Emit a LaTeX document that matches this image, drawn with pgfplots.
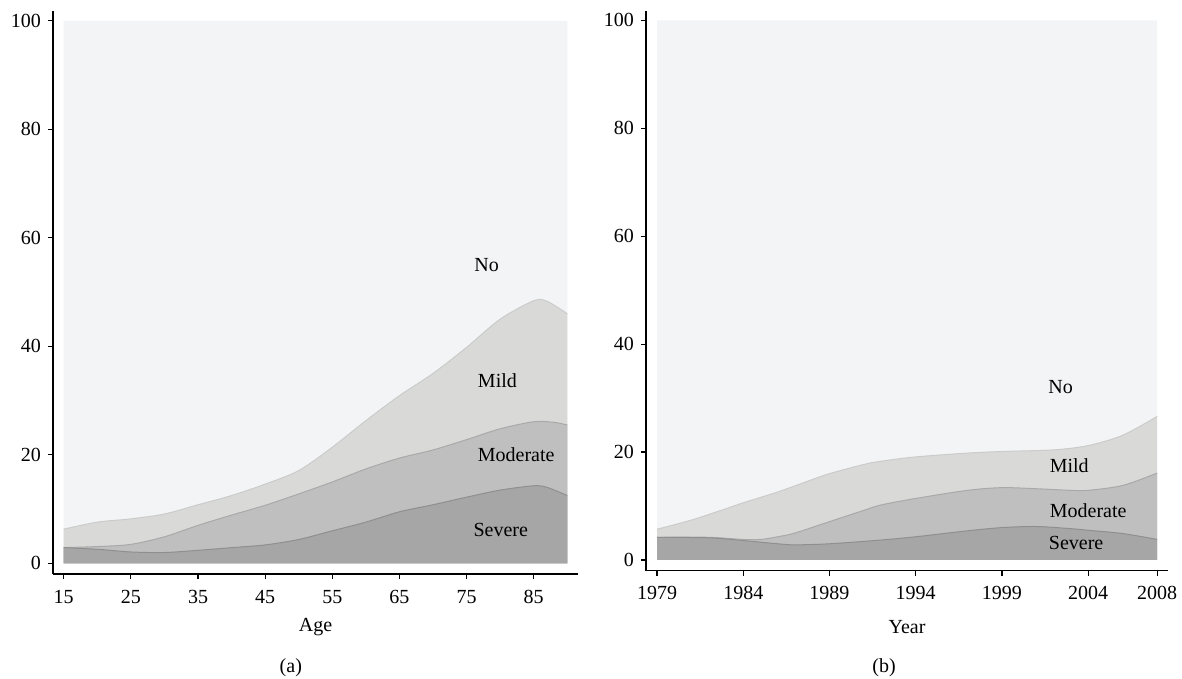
\documentclass[border=0pt]{standalone}
\usepackage{fontspec}
\setmainfont{Liberation Serif}
\usepackage{pgfplots}
\pgfplotsset{compat=1.18}

\definecolor{NoCol}{HTML}{F3F4F6}
\definecolor{MildCol}{HTML}{D9D9D8}
\definecolor{ModCol}{HTML}{BFBFBF}
\definecolor{SevCol}{HTML}{A6A6A6}
\definecolor{MildLine}{HTML}{CBCBCB}
\definecolor{ModLine}{HTML}{A9A9A9}
\definecolor{SevLine}{HTML}{8F8F8F}

\tikzset{lbl/.style={font=\fontsize{10}{12}\selectfont}}
\pgfplotsset{
    stataaxis/.style={
        scale only axis,
        axis x line*=bottom,
        axis y line*=left,
        axis line style={-, draw=black, line width=0.6pt},
        tick style={draw=black, line width=0.6pt},
        tick align=outside,
        major tick length=2.5pt,
        ytick={0,20,40,60,80,100},
        /pgf/number format/assume math mode=true,
        /pgf/number format/1000 sep={},
        tick label style={font=\fontsize{10}{12}\selectfont},
        xticklabel style={yshift=-2pt},
        label style={font=\fontsize{10}{12}\selectfont},
        clip=false,
    },
    area/.style={draw=none, fill=#1, smooth},
    edge/.style={draw=#1, line width=0.5pt, smooth},
}

\begin{document}
\begin{tikzpicture}
\path[use as bounding box] (0,0) rectangle (591pt,339.5pt);

% (a) by age
\begin{axis}[
    stataaxis,
    at={(26.5pt,52.5pt)}, anchor=south west,
    width=262.5pt, height=281.5pt,
    xmin=13.4, xmax=91.6, ymin=-1.96, ymax=101.8,
    xtick={15,25,35,45,55,65,75,85},
    xlabel={Age},
    xlabel style={at={(axis description cs:0.5,-0.095)}, anchor=center},
]
\addplot[area=NoCol] coordinates {(15,100) (90,100)} \closedcycle;
\addplot[area=MildCol] coordinates {
    (15,6.3) (20,7.6) (25,8.2) (30,9.1) (35,10.8) (40,12.5) (45,14.6)
    (50,17.1) (55,21.4) (60,26.3) (65,30.9) (70,35.0) (75,39.8) (80,45.0)
    (85,48.4) (87,48.3) (90,46.0)} \closedcycle;
\addplot[area=ModCol] coordinates {
    (15,2.9) (20,3.1) (25,3.5) (30,4.9) (35,7.0) (40,8.9) (45,10.7)
    (50,12.8) (55,15.0) (60,17.4) (65,19.4) (70,20.9) (75,22.8) (80,24.8)
    (85,26.1) (88,26.0) (90,25.5)} \closedcycle;
\addplot[area=SevCol] coordinates {
    (15,2.9) (20,2.6) (25,2.1) (30,2.0) (35,2.4) (40,2.9) (45,3.4)
    (50,4.4) (55,6.0) (60,7.6) (65,9.5) (70,10.8) (75,12.2) (80,13.5)
    (85,14.3) (87,14.0) (90,12.5)} \closedcycle;
\addplot[edge=MildLine] coordinates {
    (15,6.3) (20,7.6) (25,8.2) (30,9.1) (35,10.8) (40,12.5) (45,14.6)
    (50,17.1) (55,21.4) (60,26.3) (65,30.9) (70,35.0) (75,39.8) (80,45.0)
    (85,48.4) (87,48.3) (90,46.0)};
\addplot[edge=ModLine] coordinates {
    (15,2.9) (20,3.1) (25,3.5) (30,4.9) (35,7.0) (40,8.9) (45,10.7)
    (50,12.8) (55,15.0) (60,17.4) (65,19.4) (70,20.9) (75,22.8) (80,24.8)
    (85,26.1) (88,26.0) (90,25.5)};
\addplot[edge=SevLine] coordinates {
    (15,2.9) (20,2.6) (25,2.1) (30,2.0) (35,2.4) (40,2.9) (45,3.4)
    (50,4.4) (55,6.0) (60,7.6) (65,9.5) (70,10.8) (75,12.2) (80,13.5)
    (85,14.3) (87,14.0) (90,12.5)};
\node[lbl] at (axis cs:78.0,55.0) {No};
\node[lbl] at (axis cs:79.6,33.6) {Mild};
\node[lbl] at (axis cs:82.4,20.0) {Moderate};
\node[lbl] at (axis cs:80.1,6.1) {Severe};
\node[lbl] at (axis description cs:0.453,-0.167) {(a)};
\end{axis}

% (b) by year
\begin{axis}[
    stataaxis,
    at={(323pt,54.2pt)}, anchor=south west,
    width=261pt, height=280pt,
    xmin=1978.36, xmax=2008.63, ymin=-1.97, ymax=101.8,
    xtick={1979,1984,1989,1994,1999,2004,2008},
    xlabel={Year},
    xlabel style={at={(axis description cs:0.5,-0.1)}, anchor=center},
]
\addplot[area=NoCol] coordinates {(1979,100) (2008,100)} \closedcycle;
\addplot[area=MildCol] coordinates {
    (1979,5.7) (1981,7.4) (1983,9.5) (1984,10.6) (1986,12.6) (1988,14.9)
    (1989,16.0) (1991,17.7) (1992,18.3) (1994,19.1) (1997,19.8) (1999,20.1)
    (2002,20.4) (2004,21.2) (2006,23.1) (2008,26.6)} \closedcycle;
\addplot[area=ModCol] coordinates {
    (1979,4.2) (1982,4.2) (1984,3.8) (1985,3.8) (1986,4.3) (1987,5.0)
    (1989,7.1) (1991,9.2) (1992,10.2) (1994,11.4) (1997,12.9) (1999,13.4)
    (2001,13.2) (2003,12.9) (2004,12.9) (2006,13.8) (2008,16.1)} \closedcycle;
\addplot[area=SevCol] coordinates {
    (1979,4.2) (1982,4.1) (1984,3.6) (1986,3.0) (1987,2.8) (1989,3.0)
    (1992,3.7) (1994,4.3) (1997,5.4) (1999,6.0) (2001,6.2) (2003,5.8)
    (2004,5.5) (2006,4.9) (2008,3.8)} \closedcycle;
\addplot[edge=MildLine] coordinates {
    (1979,5.7) (1981,7.4) (1983,9.5) (1984,10.6) (1986,12.6) (1988,14.9)
    (1989,16.0) (1991,17.7) (1992,18.3) (1994,19.1) (1997,19.8) (1999,20.1)
    (2002,20.4) (2004,21.2) (2006,23.1) (2008,26.6)};
\addplot[edge=ModLine] coordinates {
    (1979,4.2) (1982,4.2) (1984,3.8) (1985,3.8) (1986,4.3) (1987,5.0)
    (1989,7.1) (1991,9.2) (1992,10.2) (1994,11.4) (1997,12.9) (1999,13.4)
    (2001,13.2) (2003,12.9) (2004,12.9) (2006,13.8) (2008,16.1)};
\addplot[edge=SevLine] coordinates {
    (1979,4.2) (1982,4.1) (1984,3.6) (1986,3.0) (1987,2.8) (1989,3.0)
    (1992,3.7) (1994,4.3) (1997,5.4) (1999,6.0) (2001,6.2) (2003,5.8)
    (2004,5.5) (2006,4.9) (2008,3.8)};
\node[lbl] at (axis cs:2002.4,32.0) {No};
\node[lbl] at (axis cs:2002.9,17.4) {Mild};
\node[lbl] at (axis cs:2004.0,9.2) {Moderate};
\node[lbl] at (axis cs:2003.3,3.1) {Severe};
\node[lbl] at (axis description cs:0.456,-0.174) {(b)};
\end{axis}
\end{tikzpicture}
\end{document}
